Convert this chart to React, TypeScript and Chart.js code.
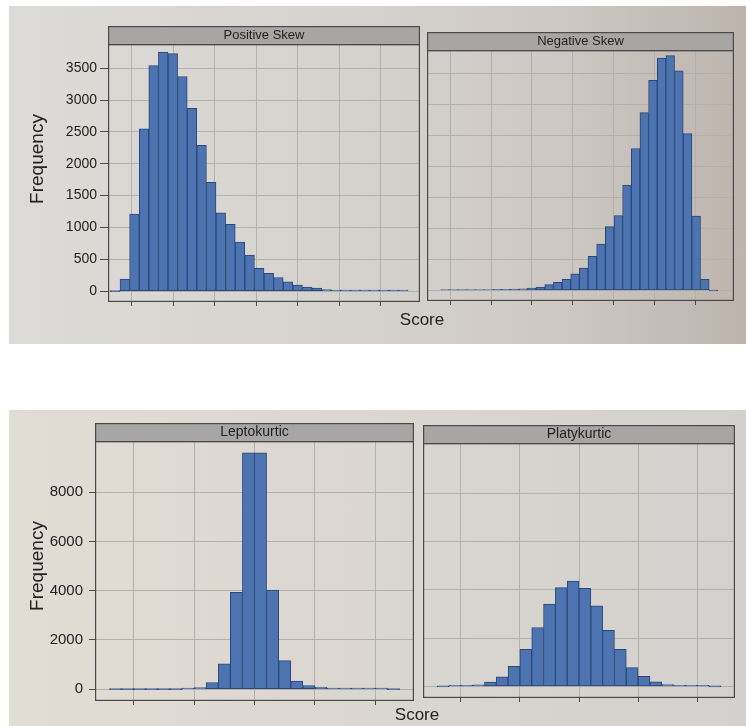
import React, { useEffect, useRef } from 'react';
import { Chart, registerables } from 'chart.js';

Chart.register(...registerables);

// ---------------- data ----------------
const TOP_Y_TICKS = [0, 500, 1000, 1500, 2000, 2500, 3000, 3500];
const BOTTOM_Y_TICKS = [0, 2000, 4000, 6000, 8000];
const TOP_X_GRID = [0, 10, 20, 30, 40, 50, 60];
const BOTTOM_X_GRID = [-10, -5, 0, 5, 10];

const POSITIVE_SKEW = [0, 190, 1210, 2550, 3540, 3755, 3730, 3370, 2870, 2290, 1710, 1230, 1050, 770, 565, 360, 280, 215, 145, 95, 63, 50, 26, 12, 10, 8, 6, 15, 5, 3, 2];
const NEGATIVE_SKEW = [2, 3, 3, 5, 10, 10, 17, 17, 22, 27, 40, 55, 94, 132, 180, 270, 360, 550, 750, 1030, 1210, 1700, 2290, 2870, 3390, 3750, 3790, 3545, 2530, 1200, 180, 0];
const LEPTOKURTIC = [0, 0, 0, 0, 0, 0, 20, 60, 270, 1030, 3930, 9600, 9600, 4030, 1160, 330, 150, 90, 10, 5, 3, 2, 1, 0];
const PLATYKURTIC = [0, 5, 35, 70, 180, 400, 830, 1540, 2440, 3410, 4090, 4360, 4060, 3340, 2320, 1540, 780, 415, 185, 80, 5, 3, 2, 0];

const POS_START = -5.12;
const POS_BIN = 2.314;
const NEG_START = -2.3;
const NEG_BIN = 2.12;
const KURT_START = -12;
const KURT_BIN = 1;

const TOP_X_RANGE = [-5.7, 69.5];
const BOTTOM_X_RANGE = [-13.2, 13.2];
const TOP_Y_RANGE = [-170, 3880];
const BOTTOM_Y_RANGE = [-480, 10080];

// ---------------- styles ----------------
const FONT = '"Liberation Sans", Arial, Helvetica, sans-serif';
const BAR_FILL = '#4d74b1';
const BAR_LINE = '#2a4779';
const GRID = '#b2b0ac';
const FRAME = '#4a4a4a';
const STRIP_FILL = '#a7a6a4';
const TEXT = '#222222';

type PanelSpec = {
  title: string;
  counts: number[];
  start: number;
  bin: number;
  xRange: number[];
  yRange: number[];
  xGrid: number[];
  yTicks: number[];
  left: number;
  top: number;
  w: number;
  h: number;
  yAxisW: number;
  showY: boolean;
  tickFont: number;
  tickLen: number;
  tickPad: number;
  stripFont: number;
};

const panelDecor = {
  id: 'panelDecor',
  afterDraw(chart: any, _args: any, opts: any) {
    const { ctx, chartArea: a } = chart;
    const sh = opts.stripH;
    ctx.save();
    ctx.fillStyle = STRIP_FILL;
    ctx.fillRect(a.left, a.top - sh, a.right - a.left, sh);
    ctx.strokeStyle = FRAME;
    ctx.lineWidth = 1.2;
    ctx.strokeRect(a.left + 0.6, a.top - sh + 0.6, a.right - a.left - 1.2, sh);
    ctx.strokeRect(a.left + 0.6, a.top + 0.6, a.right - a.left - 1.2, a.bottom - a.top - 1.2);
    ctx.fillStyle = TEXT;
    ctx.font = `${opts.fontSize}px ${FONT}`;
    ctx.textAlign = 'center';
    ctx.textBaseline = 'middle';
    ctx.fillText(opts.title, (a.left + a.right) / 2, a.top - sh / 2 + 0.5);
    ctx.restore();
  },
};

function buildConfig(p: PanelSpec): any {
  return {
    type: 'bar',
    data: {
      datasets: [
        {
          data: p.counts.map((c, i) => ({ x: p.start + (i + 0.5) * p.bin, y: c })),
          backgroundColor: BAR_FILL,
          borderColor: BAR_LINE,
          borderWidth: 1,
          borderSkipped: false,
          barPercentage: 1,
          categoryPercentage: 1,
          minBarLength: 1,
        },
      ],
    },
    options: {
      responsive: false,
      animation: false,
      devicePixelRatio: 1,
      layout: { padding: { top: 19, bottom: 12, left: 0, right: 0 } },
      plugins: {
        legend: { display: false },
        tooltip: { enabled: false },
        panelDecor: { title: p.title, stripH: 18, fontSize: p.stripFont },
      },
      scales: {
        x: {
          type: 'linear',
          min: p.xRange[0],
          max: p.xRange[1],
          offset: false,
          afterBuildTicks: (ax: any) => {
            ax.ticks = p.xGrid.map((v) => ({ value: v }));
          },
          afterFit: (s: any) => {
            s.height = 4;
          },
          ticks: { display: false },
          grid: { offset: false, color: GRID, lineWidth: 1, drawTicks: true, tickLength: 4, tickColor: FRAME },
          border: { display: false },
        },
        y: {
          type: 'linear',
          min: p.yRange[0],
          max: p.yRange[1],
          afterBuildTicks: (ax: any) => {
            ax.ticks = p.yTicks.map((v) => ({ value: v }));
          },
          afterFit: (s: any) => {
            s.width = p.yAxisW;
          },
          ticks: {
            display: p.showY,
            font: { family: FONT, size: p.tickFont },
            color: TEXT,
            padding: p.tickPad,
            callback: (v: any) => String(v),
          },
          grid: { color: GRID, lineWidth: 1, drawTicks: p.showY, tickLength: p.tickLen, tickColor: FRAME },
          border: { display: false },
        },
      },
    },
    plugins: [panelDecor],
  };
}

const PANELS: PanelSpec[] = [
  {
    title: 'Positive Skew', counts: POSITIVE_SKEW, start: POS_START, bin: POS_BIN,
    xRange: TOP_X_RANGE, yRange: TOP_Y_RANGE, xGrid: TOP_X_GRID, yTicks: TOP_Y_TICKS,
    left: 16, top: 25, w: 404, h: 293, yAxisW: 92, showY: true, tickFont: 14, tickLen: 8, tickPad: 3, stripFont: 13,
  },
  {
    title: 'Negative Skew', counts: NEGATIVE_SKEW, start: NEG_START, bin: NEG_BIN,
    xRange: TOP_X_RANGE, yRange: TOP_Y_RANGE, xGrid: TOP_X_GRID, yTicks: TOP_Y_TICKS,
    left: 427, top: 31, w: 307, h: 286, yAxisW: 0, showY: false, tickFont: 14, tickLen: 8, tickPad: 3, stripFont: 13,
  },
  {
    title: 'Leptokurtic', counts: LEPTOKURTIC, start: KURT_START, bin: KURT_BIN,
    xRange: BOTTOM_X_RANGE, yRange: BOTTOM_Y_RANGE, xGrid: BOTTOM_X_GRID, yTicks: BOTTOM_Y_TICKS,
    left: 20, top: 422, w: 394, h: 295, yAxisW: 75, showY: true, tickFont: 15, tickLen: 6, tickPad: 6, stripFont: 14,
  },
  {
    title: 'Platykurtic', counts: PLATYKURTIC, start: KURT_START, bin: KURT_BIN,
    xRange: BOTTOM_X_RANGE, yRange: BOTTOM_Y_RANGE, xGrid: BOTTOM_X_GRID, yTicks: BOTTOM_Y_TICKS,
    left: 423, top: 424, w: 312, h: 290, yAxisW: 0, showY: false, tickFont: 15, tickLen: 6, tickPad: 6, stripFont: 14,
  },
];

function Panel({ spec }: { spec: PanelSpec }) {
  const ref = useRef<HTMLCanvasElement | null>(null);
  useEffect(() => {
    if (!ref.current) return;
    const chart = new Chart(ref.current, buildConfig(spec));
    return () => chart.destroy();
  }, [spec]);
  return (
    <canvas
      ref={ref}
      width={spec.w}
      height={spec.h}
      style={{ position: 'absolute', left: spec.left, top: spec.top, width: spec.w, height: spec.h }}
    />
  );
}

function Label({ text, x, y, size, rotate }: { text: string; x: number; y: number; size: number; rotate?: boolean }) {
  return (
    <div
      style={{
        position: 'absolute',
        left: x,
        top: y,
        transform: `translate(-50%, -50%)${rotate ? ' rotate(-90deg)' : ''}`,
        fontFamily: FONT,
        fontSize: size,
        color: TEXT,
        whiteSpace: 'nowrap',
        lineHeight: 1,
      }}
    >
      {text}
    </div>
  );
}

export default function App() {
  return (
    <div style={{ position: 'absolute', left: 0, top: 0, width: 746, height: 726, background: '#ffffff', overflow: 'hidden' }}>
      <div
        style={{
          position: 'absolute', left: 9, top: 6, width: 737, height: 338,
          background: 'linear-gradient(90deg, #dddbd7 0%, #d6d3cf 45%, #cdc8c3 75%, #bdb4ad 100%)',
        }}
      />
      <div
        style={{
          position: 'absolute', left: 9, top: 410, width: 737, height: 316,
          background: 'linear-gradient(90deg, #e2ddd4 0%, #dad6d0 50%, #d3d1ce 100%)',
        }}
      />
      {PANELS.map((p) => (
        <Panel key={p.title} spec={p} />
      ))}
      <Label text="Frequency" x={36} y={159} size={19} rotate />
      <Label text="Score" x={422} y={319} size={17} />
      <Label text="Frequency" x={36} y={566} size={19} rotate />
      <Label text="Score" x={417} y={714} size={17} />
    </div>
  );
}
